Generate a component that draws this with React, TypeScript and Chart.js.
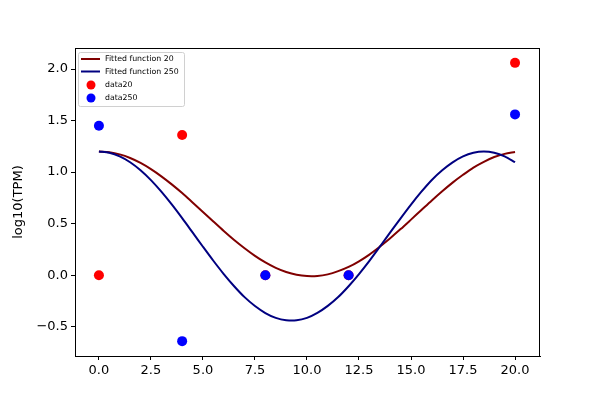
import React, { useEffect, useRef } from 'react';
import { Chart, registerables } from 'chart.js';

Chart.register(...registerables);

// fitted curves, every half unit of x
const fitX = [0, 0.5, 1, 1.5, 2, 2.5, 3, 3.5, 4, 4.5, 5, 5.5, 6, 6.5, 7, 7.5, 8, 8.5, 9, 9.5, 10,
  10.5, 11, 11.5, 12, 12.5, 13, 13.5, 14, 14.5, 15, 15.5, 16, 16.5, 17, 17.5, 18, 18.5, 19, 19.5, 20];
const fit20 = [1.2, 1.193, 1.172, 1.137, 1.089, 1.029, 0.959, 0.881, 0.797, 0.706, 0.614, 0.521, 0.429, 0.342, 0.262, 0.188, 0.124, 0.071, 0.031, 0.004, -0.009,
  -0.008, 0.008, 0.039, 0.08, 0.135, 0.2, 0.277, 0.359, 0.447, 0.539, 0.632, 0.725, 0.814, 0.898, 0.974, 1.044, 1.1, 1.146, 1.177, 1.195];
const fit250 = [1.2, 1.188, 1.153, 1.096, 1.018, 0.922, 0.81, 0.686, 0.553, 0.415, 0.276, 0.14, 0.011, -0.107, -0.213, -0.299, -0.367, -0.414, -0.437, -0.438, -0.414,
  -0.366, -0.298, -0.212, -0.107, 0.011, 0.139, 0.276, 0.415, 0.552, 0.685, 0.81, 0.924, 1.018, 1.095, 1.153, 1.188, 1.2, 1.188, 1.153, 1.096];

// measured points
const sampleX = [0, 4, 8, 12, 20];
const data20 = [0, 1.36, 0, 0, 2.06];
const data250 = [1.45, -0.64, 0, 0, 1.56];

const xTicks = [0, 2.5, 5, 7.5, 10, 12.5, 15, 17.5, 20];
const yTicks = [-0.5, 0, 0.5, 1, 1.5, 2];

const FONT = 'DejaVu Sans';

const pts = (xs: number[], ys: number[]) => xs.map((x, i) => ({ x, y: ys[i] }));
const fmt = (v: number) => v.toFixed(1).replace('-', '\u2212');

// top/right spines + legend box in the upper left corner
const framePlugin = {
  id: 'frame',
  afterDraw(chart: any) {
    const { ctx, chartArea: a } = chart;
    ctx.save();
    ctx.strokeStyle = '#000';
    ctx.lineWidth = 1;
    ctx.strokeRect(a.left + 0.5, a.top + 0.5, a.right - a.left - 1, a.bottom - a.top);

    const bx = a.left + 3, by = a.top + 4, bw = 106, bh = 54;
    ctx.fillStyle = 'rgba(255,255,255,0.8)';
    ctx.strokeStyle = '#d0d0d0';
    ctx.beginPath();
    ctx.roundRect(bx + 0.5, by + 0.5, bw, bh, 2);
    ctx.fill();
    ctx.stroke();

    const items = chart.data.datasets.slice().sort((p: any, q: any) => p.legendRank - q.legendRank);
    ctx.font = `7.8px ${FONT}`;
    ctx.textBaseline = 'middle';
    const rows = [by + 7, by + 19.5, by + 33, by + 46];
    items.forEach((d: any, i: number) => {
      const y = rows[i];
      if (d.showLine) {
        ctx.strokeStyle = d.borderColor;
        ctx.lineWidth = 2;
        ctx.beginPath();
        ctx.moveTo(bx + 3, y);
        ctx.lineTo(bx + 22, y);
        ctx.stroke();
      } else {
        ctx.fillStyle = d.backgroundColor;
        ctx.beginPath();
        ctx.arc(bx + 13, y, 4.5, 0, Math.PI * 2);
        ctx.fill();
      }
      ctx.fillStyle = '#000';
      ctx.fillText(d.label, bx + 27, y);
    });
    ctx.restore();
  },
};

export default function App() {
  const canvasRef = useRef<HTMLCanvasElement>(null);

  useEffect(() => {
    document.body.style.margin = '0';
    const ctx = canvasRef.current?.getContext('2d');
    if (!ctx) return;

    const chart = new Chart(ctx, {
      type: 'scatter',
      data: {
        datasets: [
          {
            label: 'Fitted function 20',
            data: pts(fitX, fit20),
            showLine: true,
            borderColor: '#800000',
            backgroundColor: '#800000',
            borderWidth: 2,
            pointRadius: 0,
            tension: 0.3,
            order: 3,
            legendRank: 0,
          } as any,
          {
            label: 'Fitted function 250',
            data: pts(fitX, fit250),
            showLine: true,
            borderColor: '#000080',
            backgroundColor: '#000080',
            borderWidth: 2,
            pointRadius: 0,
            tension: 0.3,
            order: 2,
            legendRank: 1,
          } as any,
          {
            label: 'data20',
            data: pts(sampleX, data20),
            backgroundColor: '#ff0000',
            borderWidth: 0,
            pointRadius: 5,
            order: 1,
            legendRank: 2,
          } as any,
          {
            label: 'data250',
            data: pts(sampleX, data250),
            backgroundColor: '#0000ff',
            borderWidth: 0,
            pointRadius: 5,
            order: 0,
            legendRank: 3,
          } as any,
        ],
      },
      options: {
        responsive: false,
        animation: false,
        layout: { padding: { left: 0, top: 48, right: 60, bottom: 0 } },
        plugins: {
          legend: { display: false },
          tooltip: { enabled: false },
        },
        scales: {
          x: {
            type: 'linear',
            min: -1.15,
            max: 21.2,
            afterBuildTicks: (s: any) => {
              s.ticks = xTicks.map((value) => ({ value }));
            },
            afterFit: (s: any) => {
              s.height = 44;
            },
            grid: { drawOnChartArea: false, drawTicks: true, tickLength: 4, color: '#000' },
            border: { display: true, color: '#000' },
            ticks: {
              color: '#000',
              padding: 3,
              maxRotation: 0,
              font: { family: FONT, size: 13 },
              callback: (v: any) => fmt(Number(v)),
            },
          },
          y: {
            type: 'linear',
            min: -0.784,
            max: 2.204,
            afterBuildTicks: (s: any) => {
              s.ticks = yTicks.map((value) => ({ value }));
            },
            afterFit: (s: any) => {
              s.width = 75;
            },
            grid: { drawOnChartArea: false, drawTicks: true, tickLength: 4, color: '#000' },
            border: { display: true, color: '#000' },
            title: {
              display: true,
              text: 'log10(TPM)',
              color: '#000',
              font: { family: FONT, size: 13 },
              padding: { top: 11, bottom: 0 },
            },
            ticks: {
              color: '#000',
              padding: 3,
              font: { family: FONT, size: 13 },
              callback: (v: any) => fmt(Number(v)),
            },
          },
        },
      },
      plugins: [framePlugin],
    });

    return () => chart.destroy();
  }, []);

  return (
    <div style={{ width: 600, height: 400 }}>
      <canvas ref={canvasRef} width={600} height={400} />
    </div>
  );
}
